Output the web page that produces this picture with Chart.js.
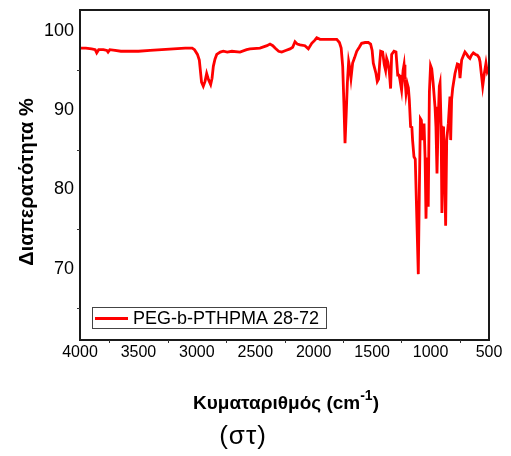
<!DOCTYPE html>
<html>
<head>
<meta charset="utf-8">
<script src="https://cdn.jsdelivr.net/npm/chart.js@4"></script>
<style>
  html, body { margin: 0; padding: 0; background: #ffffff; }
  #wrap { width: 511px; height: 456px; position: relative; }
</style>
</head>
<body>
<div id="wrap"><canvas id="c" width="511" height="456"></canvas></div>
<script>
// FTIR spectrum of PEG-b-PTHPMA 28-72 (wavenumber in cm^-1, transmittance in %)
const wavenumbers = [
  4000, 3950, 3900, 3870, 3857, 3840, 3800, 3770, 3760, 3745, 3700, 3650, 3600, 3500, 3400, 3300,
  3200, 3100, 3040, 3020, 2995, 2979, 2960, 2945, 2930, 2916, 2900, 2882, 2870, 2859, 2845, 2830,
  2800, 2774, 2740, 2700, 2631, 2574, 2545, 2460, 2400, 2374, 2350, 2331, 2300, 2274, 2240, 2203,
  2180, 2160, 2140, 2117, 2075, 2046, 2017, 1990, 1974, 1946, 1900, 1850, 1803, 1780, 1765, 1752,
  1742, 1732, 1722, 1712, 1701, 1690, 1681, 1667, 1650, 1632, 1610, 1590, 1560, 1533, 1513, 1500,
  1490, 1467, 1456, 1445, 1435, 1427, 1410, 1396, 1385, 1376, 1365, 1353, 1342, 1333, 1313, 1296,
  1281, 1270, 1262, 1248, 1235, 1227, 1219, 1210, 1199, 1190, 1182, 1171, 1160, 1154, 1142, 1131,
  1105, 1096, 1087, 1079, 1068, 1056, 1047, 1039, 1030, 1020, 1010, 1000, 990, 978, 962, 954,
  945, 935, 925, 919, 910, 903, 895, 889, 880, 871, 862, 848, 834, 828, 820, 811,
  791, 771, 757, 748, 734, 715, 706, 690, 677, 663, 650, 634, 615, 600, 585, 577,
  563, 554, 540, 526, 515, 500
];
const transmittance = [
  97.8, 97.8, 97.7, 97.6, 97.2, 97.6, 97.6, 97.5, 97.3, 97.6, 97.5, 97.4, 97.4, 97.4, 97.5, 97.6,
  97.7, 97.8, 97.8, 97.6, 97.0, 96.3, 93.5, 93.0, 93.6, 94.6, 93.8, 93.2, 94.0, 95.5, 96.4, 97.0,
  97.3, 97.4, 97.3, 97.4, 97.3, 97.6, 97.7, 97.8, 98.1, 98.3, 98.1, 97.8, 97.4, 97.3, 97.5, 97.7,
  97.9, 98.6, 98.3, 98.2, 98.1, 97.7, 98.4, 98.8, 99.1, 98.9, 98.9, 98.9, 98.9, 98.5, 97.8, 95.5,
  91.0, 85.8, 89.5, 93.4, 96.1, 95.2, 94.0, 95.9, 96.6, 97.4, 97.9, 98.4, 98.5, 98.5, 98.3, 97.5,
  95.9, 94.6, 93.6, 93.9, 96.0, 97.4, 97.3, 95.7, 95.0, 96.5, 96.0, 94.8, 92.7, 97.0, 97.4, 97.3,
  94.4, 94.4, 93.8, 92.5, 95.0, 95.7, 93.8, 92.1, 93.3, 92.8, 91.3, 87.9, 87.8, 86.2, 84.1, 83.8,
  69.3, 80.0, 88.9, 88.7, 86.2, 88.3, 84.0, 76.3, 84.0, 77.8, 92.3, 95.6, 95.2, 93.4, 90.4, 87.9,
  82.0, 88.5, 93.0, 93.4, 88.0, 77.0, 85.0, 87.9, 82.0, 75.4, 86.2, 88.3, 91.7, 86.2, 91.3, 92.7,
  94.6, 95.8, 95.7, 94.0, 96.3, 97.0, 97.3, 97.0, 96.7, 96.5, 96.9, 97.2, 97.0, 96.9, 96.6, 96.1,
  94.2, 93.0, 94.6, 95.9, 94.8, 95.3
];
const seriesLabel = 'PEG-b-PTHPMA 28-72';
const xTickValues = [4000, 3500, 3000, 2500, 2000, 1500, 1000, 500];
const xMinorTicks = [3750, 3250, 2750, 2250, 1750, 1250, 750];
const yTickValues = [70, 80, 90, 100];
const yMinorTicks = [95, 85, 75, 65];

const FONT = '"Liberation Sans", Arial, Helvetica, sans-serif';

const points = wavenumbers.map((w, i) => ({ x: w, y: transmittance[i] }));

// Frame, small outward ticks, axis titles and the boxed legend
const decorations = {
  id: 'decorations',
  afterDatasetsDraw(chart) {
    const { ctx, chartArea: a, scales } = chart;
    ctx.save();
    // plot frame
    ctx.strokeStyle = '#1a1a1a';
    ctx.lineWidth = 2;
    ctx.strokeRect(a.left, a.top, a.right - a.left, a.bottom - a.top);
    // minor ticks
    ctx.lineWidth = 1;
    ctx.strokeStyle = '#333';
    ctx.beginPath();
    xMinorTicks.forEach(v => {
      const px = Math.round(scales.x.getPixelForValue(v)) + 0.5;
      ctx.moveTo(px, a.bottom);
      ctx.lineTo(px, a.bottom + 3);
    });
    yMinorTicks.forEach(v => {
      const py = Math.round(scales.y.getPixelForValue(v)) + 0.5;
      ctx.moveTo(a.left - 3, py);
      ctx.lineTo(a.left, py);
    });
    ctx.stroke();

    // legend box
    const ds = chart.data.datasets[0];
    ctx.strokeStyle = '#444';
    ctx.lineWidth = 1;
    ctx.strokeRect(92.5, 307.5, 234, 21);
    ctx.strokeStyle = ds.borderColor;
    ctx.lineWidth = 3;
    ctx.beginPath();
    ctx.moveTo(95, 318.5);
    ctx.lineTo(128, 318.5);
    ctx.stroke();
    ctx.fillStyle = '#000';
    ctx.font = '18px ' + FONT;
    ctx.textAlign = 'left';
    ctx.textBaseline = 'middle';
    ctx.fillText(ds.label, 133, 319);

    // x axis title with superscript
    const main = 'Κυματαριθμός (cm';
    const sup = '-1';
    const tail = ')';
    ctx.font = 'bold 19px ' + FONT;
    const w1 = ctx.measureText(main).width;
    const w3 = ctx.measureText(tail).width;
    ctx.font = 'bold 14px ' + FONT;
    const w2 = ctx.measureText(sup).width;
    const x0 = 286 - (w1 + w2 + w3) / 2;
    const base = 409;
    ctx.textBaseline = 'alphabetic';
    ctx.font = 'bold 19px ' + FONT;
    ctx.fillText(main, x0, base);
    ctx.font = 'bold 14px ' + FONT;
    ctx.fillText(sup, x0 + w1, base - 9);
    ctx.font = 'bold 19px ' + FONT;
    ctx.fillText(tail, x0 + w1 + w2, base);

    // panel tag under the axis title
    ctx.font = '26px ' + FONT;
    ctx.letterSpacing = '1px';
    ctx.textAlign = 'center';
    ctx.textBaseline = 'middle';
    ctx.fillText('(στ)', 243, 437);
    ctx.letterSpacing = '0px';

    // y axis title
    ctx.translate(27, 182);
    ctx.rotate(-Math.PI / 2);
    ctx.font = 'bold 20px ' + FONT;
    ctx.fillText('Διαπερατότητα %', 0, 0);
    ctx.restore();
  }
};

new Chart(document.getElementById('c'), {
  type: 'line',
  data: {
    datasets: [{
      label: seriesLabel,
      data: points,
      borderColor: '#ff0000',
      borderWidth: 2.8,
      pointRadius: 0,
      fill: false,
      tension: 0
    }]
  },
  options: {
    responsive: false,
    animation: false,
    devicePixelRatio: 1,
    layout: { padding: { left: 0, right: 22, top: 10, bottom: 0 } },
    plugins: { legend: { display: false }, tooltip: { enabled: false } },
    scales: {
      x: {
        type: 'linear',
        reverse: true,
        min: 500,
        max: 4000,
        afterBuildTicks: s => { s.ticks = xTickValues.map(v => ({ value: v })); },
        afterFit: s => { s.height = 116; s.paddingLeft = 0; s.paddingRight = 0; },
        grid: { display: false, drawTicks: false },
        border: { display: false },
        ticks: {
          color: '#000',
          font: { family: FONT, size: 16 },
          padding: 3,
          maxRotation: 0,
          autoSkip: false,
          callback: v => String(v)
        }
      },
      y: {
        type: 'linear',
        min: 61,
        max: 102.6,
        afterBuildTicks: s => { s.ticks = yTickValues.map(v => ({ value: v })); },
        afterFit: s => { s.width = 80; s.paddingTop = 0; s.paddingBottom = 0; },
        grid: { display: false, drawTicks: false },
        border: { display: false },
        ticks: {
          color: '#000',
          font: { family: FONT, size: 18 },
          padding: 6,
          callback: v => String(v)
        }
      }
    }
  },
  plugins: [decorations]
});
</script>
</body>
</html>
